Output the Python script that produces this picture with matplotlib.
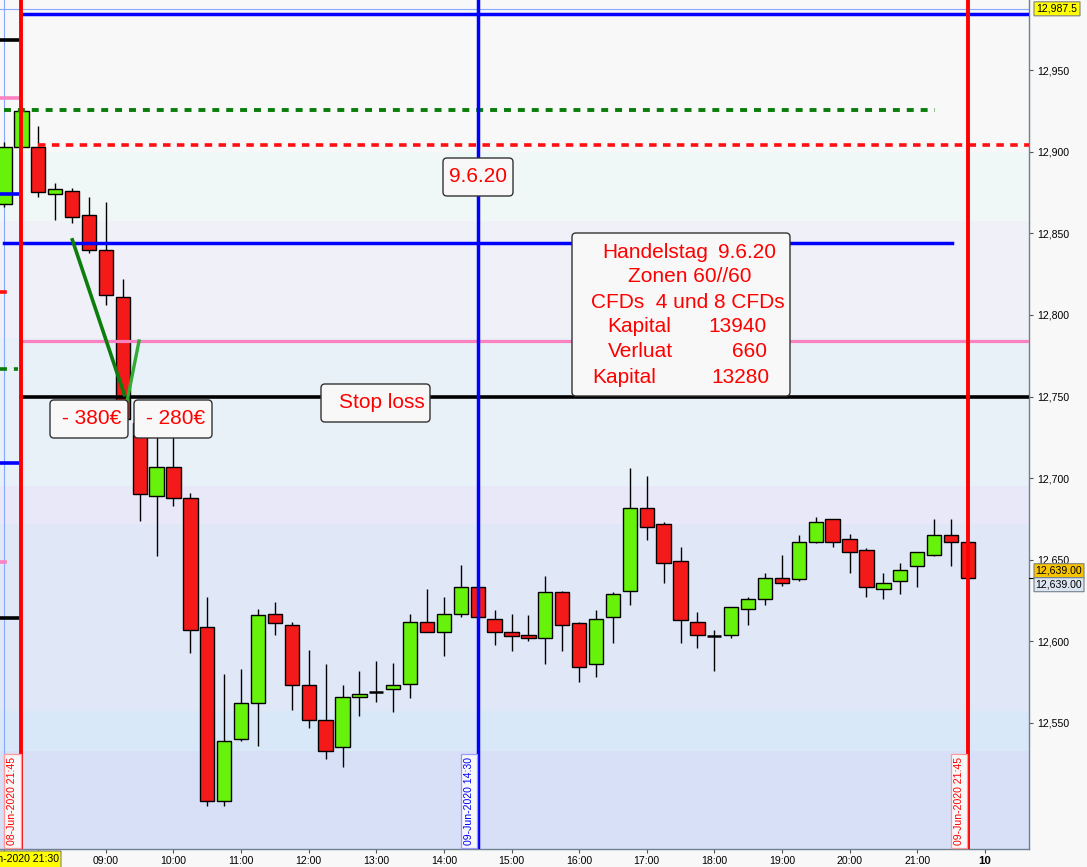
import matplotlib
matplotlib.use('Agg')
import matplotlib.pyplot as plt
from matplotlib.patches import FancyBboxPatch
from matplotlib.lines import Line2D
from matplotlib.transforms import IdentityTransform, blended_transform_factory, offset_copy

plt.rcParams['font.family'] = ['Liberation Sans', 'DejaVu Sans']
plt.rcParams['lines.scale_dashes'] = False

W, H = 1087, 867

# 15 min candles: index 0 = 08-Jun 21:30, 1 = 21:45, 2 = 09-Jun 08:00 ... 57 = 09-Jun 21:45
opens = [12868, 12903, 12903, 12874, 12876, 12861, 12840, 12811, 12734, 12689,
         12707, 12688, 12609, 12502, 12540, 12562, 12617, 12610, 12573, 12552,
         12535, 12566, 12569, 12571, 12574, 12612, 12606, 12617, 12633, 12614,
         12606, 12604, 12602, 12630, 12611, 12586, 12615, 12631, 12682, 12672,
         12649, 12612, 12603, 12604, 12620, 12626, 12639, 12638, 12661, 12675,
         12663, 12656, 12632, 12637, 12646, 12653, 12665, 12661]
highs = [12906, 12926, 12916, 12881, 12878, 12872, 12869, 12822, 12740, 12728,
         12725, 12691, 12627, 12580, 12583, 12620, 12624, 12612, 12595, 12586,
         12573, 12582, 12588, 12587, 12617, 12632, 12627, 12647, 12633, 12619,
         12617, 12616, 12640, 12631, 12612, 12619, 12630, 12706, 12701, 12673,
         12658, 12618, 12607, 12621, 12627, 12642, 12653, 12665, 12676, 12675,
         12666, 12657, 12642, 12648, 12655, 12675, 12675, 12661]
lows = [12866, 12903, 12872, 12858, 12856, 12838, 12806, 12734, 12674, 12652,
        12683, 12593, 12499, 12499, 12539, 12536, 12604, 12558, 12547, 12528,
        12523, 12554, 12563, 12557, 12565, 12606, 12591, 12615, 12615, 12598,
        12594, 12600, 12586, 12594, 12575, 12578, 12599, 12622, 12662, 12636,
        12599, 12596, 12582, 12602, 12610, 12622, 12634, 12637, 12660, 12658,
        12642, 12627, 12626, 12629, 12633, 12652, 12646, 12639]
closes = [12903, 12925, 12875, 12877, 12860, 12840, 12812, 12736, 12690, 12707,
          12688, 12607, 12502, 12539, 12562, 12616, 12611, 12573, 12552, 12533,
          12566, 12568, 12569, 12573, 12612, 12606, 12617, 12633, 12615, 12606,
          12603, 12602, 12630, 12610, 12584, 12614, 12629, 12682, 12670, 12648,
          12613, 12604, 12603, 12621, 12626, 12639, 12636, 12661, 12673, 12661,
          12655, 12633, 12636, 12644, 12655, 12665, 12661, 12639]

hour_labels = ['09:00', '10:00', '11:00', '12:00', '13:00', '14:00', '15:00',
               '16:00', '17:00', '18:00', '19:00', '20:00', '21:00']
hour_idx = [6, 10, 14, 18, 22, 26, 30, 34, 38, 42, 46, 50, 54]
next_day_idx = 58
next_day_label = '10'

# drawn levels
top_blue = 12984.5
green_target = 12925.5
red_entry = 12904
blue_zone = 12844
pink_zone = 12784
stop_loss = 12749.5
prev_stub_prices = [12968.4, 12932.8, 12874.0, 12814.0, 12766.8, 12709.3, 12648.6, 12614.3]

# hand drawn green lines
trend_x = [3.98, 7.13]
trend_y = [12847, 12750]
rebound_x = [7.23, 7.98]
rebound_y = [12746, 12785]

# vertical markers
start_idx, mid_idx, end_idx = 1, 28, 57
start_label = '08-Jun-2020 21:45'
mid_label = '09-Jun-2020 14:30'
end_label = '09-Jun-2020 21:45'
cross_idx = 0
cross_price = 12987.5
cross_label = '08-Jun-2020 21:30'

band_edges = [12995, 12900, 12857.5, 12786, 12695, 12672, 12557.5, 12533, 12470]
band_colors = ['#f8f8f8', '#f0f8f7', '#f0f0f8', '#e8f0f8', '#e8e8f8',
               '#e0e8f8', '#d8e8f8', '#d8e0f8']

fig = plt.figure(figsize=(W / 100, H / 100), dpi=100, facecolor='#f8f8f8')
ax = fig.add_axes([0, 18 / H, 1029 / W, 849 / H])
ax.set_facecolor('#f8f8f8')
x_left, x_right = -0.266, 60.62
ax.set_xlim(x_left, x_right)
ax.set_ylim(12472.8, 12992.9)

for k in range(len(band_colors)):
    ax.axhspan(band_edges[k + 1], band_edges[k], color=band_colors[k], lw=0, zorder=0)

# crosshair
ax.axvline(cross_idx, color='#86a8ff', lw=0.8, zorder=1)
ax.axhline(cross_price, color='#86a8ff', lw=0.8, zorder=1)

# candles
red_c, green_c = '#f41a1a', '#66f20a'
for i in range(len(opens)):
    o, h, l, c = opens[i], highs[i], lows[i], closes[i]
    ax.vlines(i, l, h, color='black', lw=1.0, zorder=2)
    if o == c:
        ax.hlines(o, i - 0.42, i + 0.42, color='black', lw=1.8, zorder=3)
    else:
        ax.bar(i, abs(c - o), bottom=min(o, c), width=0.85,
               color=green_c if c > o else red_c, edgecolor='black', lw=1.0, zorder=3)

# horizontal levels
ax.plot([start_idx, x_right], [top_blue, top_blue], color='#0000ff', lw=2.5, zorder=4)
ax.plot([0, 55.06], [green_target, green_target], color='#0a7d0a', lw=2.8,
        dashes=(5, 5), zorder=4)
ax.plot([2.0, x_right], [red_entry, red_entry], color='#ff1010', lw=2.6,
        dashes=(5.4, 4.6), zorder=4)
ax.plot([0, 56.07], [blue_zone, blue_zone], color='#0000ff', lw=2.5, zorder=4)
ax.plot([start_idx, x_right], [pink_zone, pink_zone], color='#fa82c0', lw=2.3, zorder=4)
ax.plot([start_idx, x_right], [stop_loss, stop_loss], color='black', lw=2.6, zorder=4)

stub_colors = ['black', '#fa82c0', '#0000ff', '#ff1010', '#0a7d0a', '#0000ff', '#fa82c0', 'black']
stub_ends = [0.8, 0.8, 0.8, 0.03, 0.8, 0.8, 0.03, 0.8]
for p, col, xe in zip(prev_stub_prices, stub_colors, stub_ends):
    if col == '#0a7d0a':
        ax.plot([x_left, xe], [p, p], color=col, lw=2.6, dashes=(5, 5), zorder=4)
    else:
        ax.plot([x_left, xe], [p, p], color=col, lw=2.6, zorder=4)

# vertical lines
ax.axvline(start_idx, color='#ff0000', lw=2.8, zorder=5)
ax.axvline(mid_idx, color='#0000ff', lw=2.5, zorder=5)
ax.axvline(end_idx, color='#ff0000', lw=2.8, zorder=5)

# green drawings
ax.plot(trend_x, trend_y, color='#0d7d0d', lw=2.6, zorder=6, solid_capstyle='butt')
ax.plot(rebound_x, rebound_y, color='#33aa33', lw=2.4, zorder=6, solid_capstyle='butt')

# vertical date labels
blend = blended_transform_factory(ax.transData, ax.transAxes)
for xi, lab, tc, ec in [(start_idx, start_label, '#ff0000', '#ff9a9a'),
                        (mid_idx, mid_label, '#0000ff', '#9a9aff'),
                        (end_idx, end_label, '#ff0000', '#ff9a9a')]:
    tr = offset_copy(blend, fig=fig, x=-9, y=4, units='dots')
    ax.text(xi, 0, lab, transform=tr, rotation=90, ha='center', va='bottom',
            fontsize=7.6, color=tc, zorder=7,
            bbox=dict(boxstyle='square,pad=0.3', fc='#f8f8f8', ec=ec, lw=0.9))

# axes styling
for s in ['left', 'top']:
    ax.spines[s].set_visible(False)
for s in ['right', 'bottom']:
    ax.spines[s].set_color('#708090')
    ax.spines[s].set_linewidth(1.0)
ax.yaxis.tick_right()
ax.set_yticks(range(12550, 12951, 50))
ax.set_yticklabels([f'{v:,}' for v in range(12550, 12951, 50)])
ax.tick_params(axis='y', direction='out', length=3, width=0.8, color='#555555',
               labelsize=7.6, pad=3)
ax.set_xticks([cross_idx, 2] + hour_idx + [next_day_idx])
ax.set_xticklabels(['', ''] + hour_labels + [next_day_label])
ax.tick_params(axis='x', direction='out', length=3, width=0.8, color='#555555',
               labelsize=7.6, pad=2)
ax.get_xticklabels()[-1].set_fontweight('bold')
ax.get_xticklabels()[-1].set_fontsize(8.2)


def px_box(x0, y0, x1, y1, fc='#f8f8f8', ec='#333333', lw=1.0, r=4):
    p = FancyBboxPatch((x0, H - y1), x1 - x0, y1 - y0,
                       boxstyle=f'round,pad=0,rounding_size={r}',
                       transform=IdentityTransform(), fc=fc, ec=ec, lw=lw, zorder=8)
    fig.add_artist(p)


def px_text(x, y, s, **kw):
    fig.text(x / W, 1 - y / H, s, zorder=9, **kw)


red_txt = dict(color='#ff0000', fontsize=15, va='center')

px_box(443, 158, 513, 196)
px_text(478, 177, '9.6.20', ha='center', **red_txt)

px_box(321, 384, 430, 422)
px_text(339, 403, 'Stop loss', ha='left', **red_txt)

px_box(50, 400, 128, 438)
px_text(92, 418, '- 380€', ha='center', **red_txt)
px_box(134, 400, 212, 438)
px_text(176, 418, '- 280€', ha='center', **red_txt)

info_labels = ['Handelstag', 'Zonen 60//60', 'CFDs  4 und 8 CFDs', 'Kapital', 'Verluat', 'Kapital']
info_values = ['9.6.20', '', '', '13940', '660', '13280']
label_x = [602, 628, 591, 607.7, 607.7, 592.3]
value_x = [718, 0, 0, 708, 732.3, 711.7]
px_box(572, 233, 790, 396)
for k in range(len(info_labels)):
    y = 252 + 25 * k
    px_text(label_x[k], y, info_labels[k], ha='left', **red_txt)
    if info_values[k]:
        px_text(value_x[k], y, info_values[k], ha='left', **red_txt)

# right axis price markers
fig.canvas.draw()
yc = H - ax.transData.transform((0, cross_price))[1]
px_box(1034, yc - 7, 1080, yc + 7, fc='#ffff00', ec='#808080', lw=0.8, r=0)
px_text(1057, yc, f'{cross_price:,.1f}', ha='center', va='center', fontsize=7.6, color='black')

yl = H - ax.transData.transform((0, closes[-1]))[1]
px_box(1034, yl - 14, 1084, yl, fc='#f8c400', ec='#808080', lw=0.8, r=0)
px_text(1059, yl - 7, f'{closes[-1]:,.2f}', ha='center', va='center', fontsize=7.6, color='black')
px_box(1034, yl, 1084, yl + 14, fc='#dce5f0', ec='#708090', lw=0.8, r=0)
px_text(1059, yl + 7, f'{closes[-1]:,.2f}', ha='center', va='center', fontsize=7.6, color='black')
fig.add_artist(Line2D([1029, 1034], [H - yl, H - yl], color='black', lw=0.8,
                      transform=IdentityTransform()))

# bottom crosshair time label
px_box(-10, 851, 61, 870, fc='#ffff00', ec='#808080', lw=0.8, r=0)
px_text(59, 859, cross_label, ha='right', va='center', fontsize=7.6, color='black')

fig.savefig('out.png', dpi=100, facecolor=fig.get_facecolor())
